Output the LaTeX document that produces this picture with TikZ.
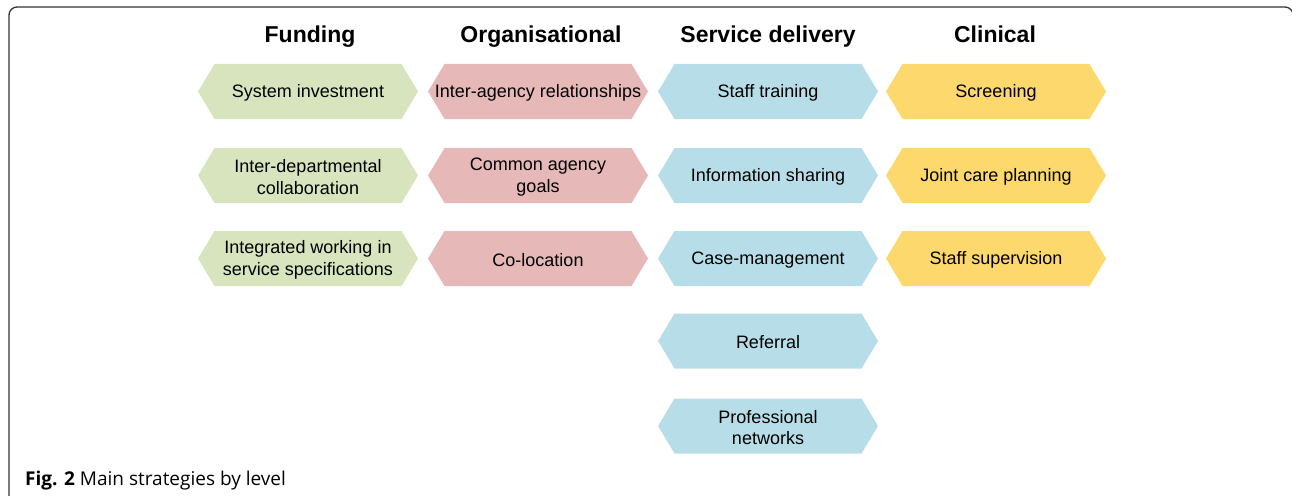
\documentclass[tikz,border=0pt]{standalone}
\usepackage{fontspec}
\setmainfont{Liberation Sans}
\newfontfamily\capfont{Open Sans}
\definecolor{fundc}{HTML}{D7E4BD}
\definecolor{orgc}{HTML}{E6B8B7}
\definecolor{servc}{HTML}{B7DEE8}
\definecolor{clinc}{HTML}{FDD86D}
\definecolor{framec}{HTML}{333333}
\tikzset{
  boxtext/.style={align=center, font=\fontsize{18}{21.5}\selectfont, text=black, inner sep=0pt},
  header/.style={anchor=base, font=\fontsize{23}{27}\selectfont\bfseries, inner sep=0pt},
}
\newcommand{\hexbox}[5]{%
  \fill[#4] (#2-110,#3) -- (#2-93.5,#3-27.5) -- (#2+93.5,#3-27.5) -- (#2+110,#3) -- (#2+93.5,#3+27.5) -- (#2-93.5,#3+27.5) -- cycle;
  \node[boxtext] (#1) at (#2,#3+1.5) {#5};}
\begin{document}
\begin{tikzpicture}[x=1pt,y=-1pt]
\useasboundingbox (0,0) rectangle (1292,495);
\draw[framec, line width=1.3pt, rounded corners=8pt] (9,500) -- (9,7) -- (1293,7) -- (1293,30);
% headers
\node[header] (hf) at (310,43) {Funding};
\node[header] (ho) at (541,43) {Organisational};
\node[header] (hs) at (768,43) {Service delivery};
\node[header] (hc) at (995,43) {Clinical};
% funding
\hexbox{f1}{308}{91.5}{fundc}{System investment}
\hexbox{f2}{308}{175.5}{fundc}{Inter-departmental\\collaboration}
\hexbox{f3}{308}{258.5}{fundc}{Integrated working in\\service specifications}
% organisational
\hexbox{o1}{538}{91.5}{orgc}{Inter-agency relationships}
\hexbox{o2}{538}{175.5}{orgc}{Common agency\\goals}
\hexbox{o3}{538}{258.5}{orgc}{Co-location}
% service delivery
\hexbox{s1}{768}{91.5}{servc}{Staff training}
\hexbox{s2}{768}{175.5}{servc}{Information sharing}
\hexbox{s3}{768}{258.5}{servc}{Case-management}
\hexbox{s4}{768}{341}{servc}{Referral}
\hexbox{s5}{768}{426}{servc}{Professional\\networks}
% clinical
\hexbox{c1}{996}{91.5}{clinc}{Screening}
\hexbox{c2}{996}{175.5}{clinc}{Joint care planning}
\hexbox{c3}{996}{258.5}{clinc}{Staff supervision}
% caption
\node[anchor=base west, inner sep=0pt, font=\capfont\fontsize{19}{22}\selectfont] (cap) at (25,485) {\textbf{Fig. 2} Main strategies by level};
\end{tikzpicture}
\end{document}
